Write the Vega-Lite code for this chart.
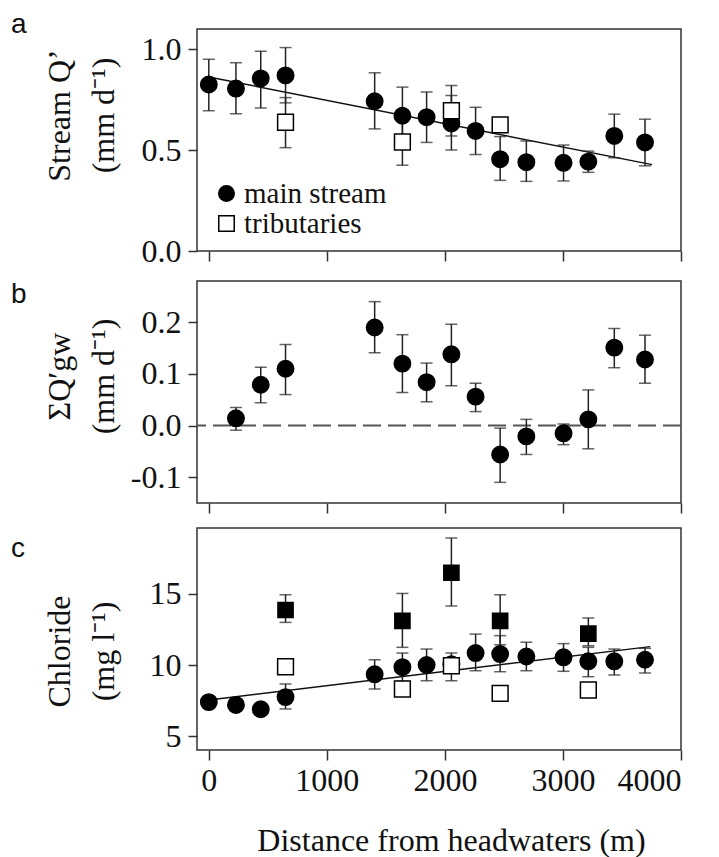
{
  "$schema": "https://vega.github.io/schema/vega-lite/v6.json",
  "background": "white",
  "padding": {"left": 10, "top": 10, "right": 2, "bottom": 0},
  "spacing": 12,
  "config": {
    "view": {"stroke": "#333", "strokeWidth": 1.5},
    "axis": {"grid": false, "domain": false, "tickColor": "#333", "tickWidth": 1.5, "tickSize": 9,
      "labelFont": "Liberation Serif", "labelFontSize": 32, "labelColor": "#111", "labelPadding": 7,
      "titleFont": "Liberation Serif", "titleFontSize": 32, "titleFontWeight": "normal", "titleColor": "#111"},
    "title": {"font": "Liberation Sans", "fontSize": 28, "fontWeight": "normal", "anchor": "start", "frame": "group",
      "baseline": "alphabetic", "offset": 0, "dx": -186, "color": "#111"}
  },
  "resolve": {"scale": {"shape": "independent", "fill": "independent", "stroke": "independent", "y": "independent"}},
  "datasets": {
    "qa": [
      {"x": 0, "q": 0.825, "lo": 0.695, "hi": 0.95, "type": "main stream"},
      {"x": 230, "q": 0.805, "lo": 0.68, "hi": 0.933, "type": "main stream"},
      {"x": 440, "q": 0.855, "lo": 0.708, "hi": 0.99, "type": "main stream"},
      {"x": 650, "q": 0.87, "lo": 0.734, "hi": 1.008, "type": "main stream"},
      {"x": 1405, "q": 0.742, "lo": 0.605, "hi": 0.883, "type": "main stream"},
      {"x": 1640, "q": 0.67, "lo": 0.53, "hi": 0.812, "type": "main stream"},
      {"x": 1845, "q": 0.663, "lo": 0.538, "hi": 0.788, "type": "main stream"},
      {"x": 2055, "q": 0.632, "lo": 0.5, "hi": 0.77, "type": "main stream"},
      {"x": 2260, "q": 0.595, "lo": 0.478, "hi": 0.712, "type": "main stream"},
      {"x": 2468, "q": 0.455, "lo": 0.35, "hi": 0.567, "type": "main stream"},
      {"x": 2690, "q": 0.44, "lo": 0.345, "hi": 0.545, "type": "main stream"},
      {"x": 3005, "q": 0.437, "lo": 0.347, "hi": 0.525, "type": "main stream"},
      {"x": 3215, "q": 0.443, "lo": 0.39, "hi": 0.495, "type": "main stream"},
      {"x": 3435, "q": 0.57, "lo": 0.462, "hi": 0.678, "type": "main stream"},
      {"x": 3695, "q": 0.538, "lo": 0.422, "hi": 0.653, "type": "main stream"},
      {"x": 650, "q": 0.638, "lo": 0.512, "hi": 0.76, "type": "tributaries"},
      {"x": 1640, "q": 0.54, "lo": 0.425, "hi": 0.655, "type": "tributaries"},
      {"x": 2055, "q": 0.695, "lo": 0.57, "hi": 0.82, "type": "tributaries"},
      {"x": 2468, "q": 0.625, "lo": null, "hi": null, "type": "tributaries"}
    ],
    "fita": [{"x": 0, "q": 0.862}, {"x": 3755, "q": 0.428}],
    "gw": [
      {"x": 230, "q": 0.014, "lo": -0.009, "hi": 0.035},
      {"x": 440, "q": 0.079, "lo": 0.044, "hi": 0.113},
      {"x": 650, "q": 0.11, "lo": 0.06, "hi": 0.157},
      {"x": 1405, "q": 0.19, "lo": 0.141, "hi": 0.24},
      {"x": 1640, "q": 0.12, "lo": 0.064, "hi": 0.176},
      {"x": 1845, "q": 0.084, "lo": 0.046, "hi": 0.121},
      {"x": 2055, "q": 0.138, "lo": 0.077, "hi": 0.196},
      {"x": 2260, "q": 0.056, "lo": 0.027, "hi": 0.082},
      {"x": 2468, "q": -0.056, "lo": -0.11, "hi": -0.005},
      {"x": 2690, "q": -0.021, "lo": -0.056, "hi": 0.012},
      {"x": 3005, "q": -0.015, "lo": -0.037, "hi": 0.003},
      {"x": 3215, "q": 0.012, "lo": -0.045, "hi": 0.069},
      {"x": 3435, "q": 0.151, "lo": 0.112, "hi": 0.188},
      {"x": 3695, "q": 0.128, "lo": 0.082, "hi": 0.175}
    ],
    "zero": [{"z": 0}],
    "cl": [
      {"x": 0, "c": 7.4, "lo": null, "hi": null, "type": "main stream"},
      {"x": 230, "c": 7.2, "lo": null, "hi": null, "type": "main stream"},
      {"x": 440, "c": 6.9, "lo": null, "hi": null, "type": "main stream"},
      {"x": 650, "c": 7.75, "lo": 6.92, "hi": 8.67, "type": "main stream"},
      {"x": 1405, "c": 9.35, "lo": 8.32, "hi": 10.37, "type": "main stream"},
      {"x": 1640, "c": 9.85, "lo": 8.86, "hi": 10.84, "type": "main stream"},
      {"x": 1845, "c": 10.0, "lo": 8.9, "hi": 11.12, "type": "main stream"},
      {"x": 2055, "c": 10.05, "lo": 8.9, "hi": 10.84, "type": "main stream"},
      {"x": 2260, "c": 10.84, "lo": 9.6, "hi": 12.17, "type": "main stream"},
      {"x": 2468, "c": 10.77, "lo": 9.53, "hi": 12.06, "type": "main stream"},
      {"x": 2690, "c": 10.6, "lo": 9.6, "hi": 11.6, "type": "main stream"},
      {"x": 3005, "c": 10.54, "lo": 9.56, "hi": 11.5, "type": "main stream"},
      {"x": 3215, "c": 10.26, "lo": 9.18, "hi": 11.24, "type": "main stream"},
      {"x": 3435, "c": 10.26, "lo": 9.3, "hi": 11.12, "type": "main stream"},
      {"x": 3695, "c": 10.37, "lo": 9.44, "hi": 11.17, "type": "main stream"},
      {"x": 650, "c": 13.86, "lo": 12.99, "hi": 14.93, "type": "groundwater"},
      {"x": 1640, "c": 13.1, "lo": 11.24, "hi": 15.02, "type": "groundwater"},
      {"x": 2055, "c": 16.47, "lo": 14.14, "hi": 18.9, "type": "groundwater"},
      {"x": 2468, "c": 13.1, "lo": 11.42, "hi": 14.93, "type": "groundwater"},
      {"x": 3215, "c": 12.2, "lo": 11.35, "hi": 13.3, "type": "groundwater"},
      {"x": 650, "c": 9.88, "lo": null, "hi": null, "type": "tributaries"},
      {"x": 1640, "c": 8.32, "lo": null, "hi": null, "type": "tributaries"},
      {"x": 2055, "c": 9.95, "lo": null, "hi": null, "type": "tributaries"},
      {"x": 2468, "c": 8.01, "lo": null, "hi": null, "type": "tributaries"},
      {"x": 3215, "c": 8.25, "lo": null, "hi": null, "type": "tributaries"}
    ],
    "fitc": [{"x": 0, "c": 7.55}, {"x": 3740, "c": 11.29}]
  },
  "vconcat": [
    {
      "title": {"text": "a", "dy": 14},
      "width": 484, "height": 222,
      "encoding": {
        "x": {"field": "x", "type": "quantitative", "scale": {"domain": [-100, 4000], "nice": false, "zero": false},
          "axis": {"values": [0, 1000, 2000, 3000, 4000], "labels": false, "title": null, "tickSize": 10}}
      },
      "layer": [
        {"data": {"name": "fita"}, "mark": {"type": "line", "color": "#111", "strokeWidth": 1.5},
          "encoding": {"y": {"field": "q", "type": "quantitative", "scale": {"domain": [0, 1.1], "nice": false, "zero": false},
            "axis": {"values": [0, 0.5, 1], "format": ".1f",
              "title": ["Stream Q’", "(mm d⁻¹)"], "titleX": -128, "titleY": 86, "titleAngle": 270, "titleAlign": "center", "titleBaseline": "alphabetic", "titleLineHeight": 44}}}},
        {"data": {"name": "qa"}, "mark": {"type": "rule", "color": "#222", "strokeWidth": 1.5},
          "encoding": {"y": {"field": "lo", "type": "quantitative"}, "y2": {"field": "hi"}}},
        {"data": {"name": "qa"}, "mark": {"type": "tick", "orient": "horizontal", "size": 12, "thickness": 1.5, "color": "#222"},
          "encoding": {"y": {"field": "lo", "type": "quantitative"}}},
        {"data": {"name": "qa"}, "mark": {"type": "tick", "orient": "horizontal", "size": 12, "thickness": 1.5, "color": "#222"},
          "encoding": {"y": {"field": "hi", "type": "quantitative"}}},
        {"data": {"name": "qa"}, "mark": {"type": "point", "filled": true, "strokeWidth": 1.5, "opacity": 1},
          "encoding": {
            "y": {"field": "q", "type": "quantitative"},
            "size": {"field": "type", "type": "nominal", "scale": {"domain": ["main stream", "tributaries"], "range": [270, 230]}, "legend": null},
            "shape": {"field": "type", "type": "nominal", "scale": {"domain": ["main stream", "tributaries"], "range": ["circle", "square"]},
              "legend": {"title": null, "orient": "bottom-left", "offset": 12, "labelFont": "Liberation Serif", "labelFontSize": 29, "labelColor": "#111", "symbolSize": 240, "symbolStrokeWidth": 1.5, "symbolOffset": 3, "labelOffset": 3, "rowPadding": -1}},
            "fill": {"field": "type", "type": "nominal", "scale": {"domain": ["main stream", "tributaries"], "range": ["black", "white"]},
              "legend": {"title": null, "orient": "bottom-left", "offset": 12, "labelFont": "Liberation Serif", "labelFontSize": 29, "labelColor": "#111", "symbolSize": 240, "symbolStrokeWidth": 1.5, "symbolOffset": 3, "labelOffset": 3, "rowPadding": -1}},
            "stroke": {"field": "type", "type": "nominal", "scale": {"domain": ["main stream", "tributaries"], "range": ["black", "black"]},
              "legend": {"title": null, "orient": "bottom-left", "offset": 12, "labelFont": "Liberation Serif", "labelFontSize": 29, "labelColor": "#111", "symbolSize": 240, "symbolStrokeWidth": 1.5, "symbolOffset": 3, "labelOffset": 3, "rowPadding": -1}}
          }}
      ]
    },
    {
      "title": {"text": "b", "dy": 32},
      "width": 484, "height": 222,
      "layer": [
        {"data": {"name": "zero"}, "mark": {"type": "rule", "color": "#555", "strokeWidth": 2, "strokeDash": [18, 7]},
          "encoding": {"y": {"field": "z", "type": "quantitative", "scale": {"domain": [-0.15, 0.28], "nice": false, "zero": false},
            "axis": {"values": [-0.1, 0, 0.1, 0.2], "labelExpr": "replace(format(datum.value, '.1f'), '\u2212', '-')",
              "title": ["ΣQ′gw", "(mm d⁻¹)"], "titleX": -128, "titleY": 95, "titleAngle": 270, "titleAlign": "center", "titleBaseline": "alphabetic", "titleLineHeight": 44}}}},
        {"data": {"name": "gw"}, "mark": {"type": "rule", "color": "#222", "strokeWidth": 1.5},
          "encoding": {
            "x": {"field": "x", "type": "quantitative", "scale": {"domain": [-100, 4000], "nice": false, "zero": false},
              "axis": {"values": [0, 1000, 2000, 3000, 4000], "labels": false, "title": null, "tickSize": 10}},
            "y": {"field": "lo", "type": "quantitative"}, "y2": {"field": "hi"}}},
        {"data": {"name": "gw"}, "mark": {"type": "tick", "orient": "horizontal", "size": 12, "thickness": 1.5, "color": "#222"},
          "encoding": {"x": {"field": "x", "type": "quantitative"}, "y": {"field": "lo", "type": "quantitative"}}},
        {"data": {"name": "gw"}, "mark": {"type": "tick", "orient": "horizontal", "size": 12, "thickness": 1.5, "color": "#222"},
          "encoding": {"x": {"field": "x", "type": "quantitative"}, "y": {"field": "hi", "type": "quantitative"}}},
        {"data": {"name": "gw"}, "mark": {"type": "point", "shape": "circle", "filled": true, "color": "black", "stroke": "black", "strokeWidth": 1.5, "size": 270, "opacity": 1},
          "encoding": {"x": {"field": "x", "type": "quantitative"}, "y": {"field": "q", "type": "quantitative"}}}
      ]
    },
    {
      "title": {"text": "c", "dy": 39},
      "width": 484, "height": 222,
      "encoding": {
        "x": {"field": "x", "type": "quantitative", "scale": {"domain": [-100, 4000], "nice": false, "zero": false},
          "axis": {"values": [0, 1000, 2000, 3000, 4000], "format": "d", "tickSize": 10, "labelPadding": 5,
            "title": "Distance from headwaters (m)", "titleX": 254, "titleY": 100, "titleAlign": "center", "titleBaseline": "alphabetic"}}
      },
      "layer": [
        {"data": {"name": "fitc"}, "mark": {"type": "line", "color": "#111", "strokeWidth": 1.5},
          "encoding": {"y": {"field": "c", "type": "quantitative", "scale": {"domain": [4.04, 19.61], "nice": false, "zero": false},
            "axis": {"values": [5, 10, 15],
              "title": ["Chloride", "(mg l⁻¹)"], "titleX": -128, "titleY": 123, "titleAngle": 270, "titleAlign": "center", "titleBaseline": "alphabetic", "titleLineHeight": 44}}}},
        {"data": {"name": "cl"}, "mark": {"type": "rule", "color": "#222", "strokeWidth": 1.5},
          "encoding": {"y": {"field": "lo", "type": "quantitative"}, "y2": {"field": "hi"}}},
        {"data": {"name": "cl"}, "mark": {"type": "tick", "orient": "horizontal", "size": 12, "thickness": 1.5, "color": "#222"},
          "encoding": {"y": {"field": "lo", "type": "quantitative"}}},
        {"data": {"name": "cl"}, "mark": {"type": "tick", "orient": "horizontal", "size": 12, "thickness": 1.5, "color": "#222"},
          "encoding": {"y": {"field": "hi", "type": "quantitative"}}},
        {"data": {"name": "cl"}, "mark": {"type": "point", "filled": true, "stroke": "black", "strokeWidth": 1.5, "opacity": 1},
          "encoding": {
            "y": {"field": "c", "type": "quantitative"},
            "size": {"field": "type", "type": "nominal", "scale": {"domain": ["main stream", "tributaries", "groundwater"], "range": [270, 230, 240]}, "legend": null},
            "shape": {"field": "type", "type": "nominal", "scale": {"domain": ["main stream", "tributaries", "groundwater"], "range": ["circle", "square", "square"]}, "legend": null},
            "fill": {"field": "type", "type": "nominal", "scale": {"domain": ["main stream", "tributaries", "groundwater"], "range": ["black", "white", "black"]}, "legend": null}
          }}
      ]
    }
  ]
}
